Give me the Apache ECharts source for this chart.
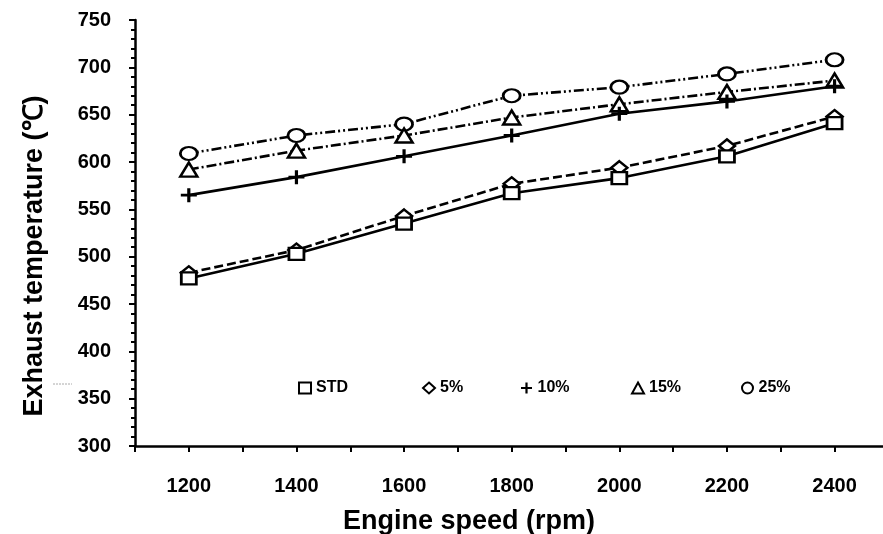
<!DOCTYPE html>
<html>
<head>
<meta charset="utf-8">
<script src="https://cdn.jsdelivr.net/npm/echarts@6/dist/echarts.min.js"></script>
<style>
html,body{margin:0;padding:0;background:#fff;}
#chart{width:883px;height:534px;}
</style>
</head>
<body>
<div id="chart"></div>
<script>
// ---- data ----
const speeds = [1200, 1400, 1600, 1800, 2000, 2200, 2400];
const stdVals = [477, 503, 535, 567, 583, 606, 641];
const p5Vals  = [483, 507, 543, 577, 594, 617, 648];
const p10Vals = [565, 584, 606, 628, 651, 664, 680];
const p15Vals = [592, 612, 628, 647, 661, 674, 686];
const p25Vals = [609, 628, 640, 670, 679, 693, 708];
const seriesNames = ['STD', '5%', '10%', '15%', '25%'];
const xLabelValues = [1200, 1400, 1600, 1800, 2000, 2200, 2400];

// ---- styles ----
const plusPath = 'path://M4,0H6V4H10V6H6V10H4V6H0V4H4Z';
const FONT = 'Liberation Sans, Arial, sans-serif';
const styles = [
  {symbol: 'rect', fill: '#fff', dash: 'solid', size: [15, 12]},
  {symbol: 'diamond', fill: '#fff', dash: [9, 4], size: [16, 13]},
  {symbol: plusPath, fill: '#000', dash: 'solid', size: [16, 14]},
  {symbol: 'triangle', fill: '#fff', dash: [10, 3, 2, 3], size: [17, 14]},
  {symbol: 'circle', fill: '#fff', dash: [10, 3, 2, 3, 2, 3], size: [17, 13]}
];
const allVals = [stdVals, p5Vals, p10Vals, p15Vals, p25Vals];

const series = seriesNames.map((name, i) => ({
  name: name,
  type: 'line',
  data: speeds.map((s, j) => [s, allVals[i][j]]),
  symbol: styles[i].symbol,
  symbolSize: styles[i].size,
  showSymbol: true,
  smooth: false,
  z: 10 - i,
  lineStyle: {color: '#000', width: 2.6, type: styles[i].dash},
  itemStyle: {
    color: styles[i].fill,
    borderColor: '#000',
    borderWidth: styles[i].fill === '#000' ? 0 : 2.5
  },
  emphasis: {disabled: true}
}));

const legendLefts = [298, 422, 521, 631, 741];
const legends = seriesNames.map((name, i) => ({
  data: [{name: name, icon: styles[i].symbol}],
  left: legendLefts[i],
  top: 380,
  padding: 0,
  itemWidth: 12,
  itemHeight: 11,
  itemGap: 0,
  textStyle: {fontFamily: FONT, fontWeight: 'bold', fontSize: 16, color: '#000'},
  selectedMode: false
}));

const chart = echarts.init(document.getElementById('chart'), null, {renderer: 'canvas'});
chart.setOption({
  animation: false,
  backgroundColor: '#fff',
  grid: {left: 135, top: 20, right: 0, bottom: 88, containLabel: false, outerBoundsMode: 'none'},
  legend: legends,
  xAxis: {
    type: 'value',
    min: 1100,
    max: 2490,
    interval: 100,
    name: 'Engine speed (rpm)',
    nameLocation: 'middle',
    nameGap: 62,
    nameTextStyle: {fontFamily: FONT, fontWeight: 'bold', fontSize: 27, color: '#000', padding: [0, 80, 0, 0]},
    axisLine: {show: true, onZero: false, lineStyle: {color: '#000', width: 2.5}},
    axisTick: {show: true, length: 6, lineStyle: {color: '#000', width: 2}},
    splitLine: {show: false},
    axisLabel: {
      margin: 30,
      showMaxLabel: false,
      fontFamily: FONT, fontWeight: 'bold', fontSize: 20, color: '#000',
      formatter: v => (xLabelValues.indexOf(v) >= 0 ? String(v) : '')
    }
  },
  yAxis: {
    type: 'value',
    min: 300,
    max: 750,
    interval: 50,
    name: 'Exhaust temperature (\u2103)',
    nameLocation: 'middle',
    nameRotate: 90,
    nameGap: 87,
    nameTextStyle: {fontFamily: FONT, fontWeight: 'bold', fontSize: 27, color: '#000', padding: [0, 46, 0, 0]},
    axisLine: {show: true, onZero: false, lineStyle: {color: '#000', width: 2.5}},
    axisTick: {show: true, length: 6, lineStyle: {color: '#000', width: 2}},
    minorTick: {show: true, splitNumber: 5, length: 4, lineStyle: {color: '#000', width: 2}},
    splitLine: {show: false},
    axisLabel: {margin: 24, fontFamily: FONT, fontWeight: 'bold', fontSize: 20, color: '#000'}
  },
  graphic: [{
    type: 'line', silent: true,
    shape: {x1: 53, y1: 384, x2: 72, y2: 384},
    style: {stroke: '#aaa', lineWidth: 1, lineDash: [2, 1]}
  }],
  series: series
});
</script>
</body>
</html>
